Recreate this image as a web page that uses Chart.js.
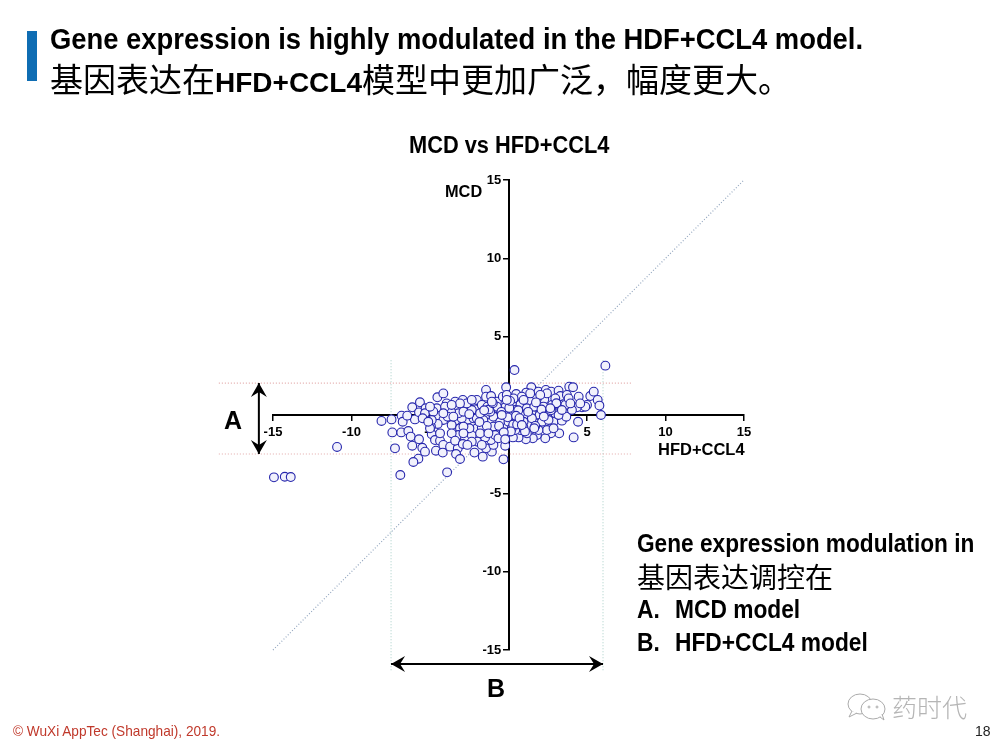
<!DOCTYPE html>
<html>
<head>
<meta charset="utf-8">
<script src="https://cdn.jsdelivr.net/npm/chart.js@4"></script>
<style>
  html, body { margin: 0; padding: 0; background: #fff; }
  #slide { position: relative; width: 1000px; height: 750px; overflow: hidden; font-family: "Liberation Sans", Arial, sans-serif; color: #000; }
  #slide canvas { position: absolute; left: 0; top: 0; }
  .txt { position: absolute; white-space: nowrap; transform-origin: left center; line-height: 1; }
  .b { font-weight: bold; }
  .cjk { font-family: "Noto Sans CJK SC", sans-serif; font-weight: 400; }
  .mark { display: inline-block; width: 41.8px; }
  #bar { position: absolute; left: 27px; top: 31px; width: 10px; height: 50px; background: #0f6db3; }
</style>
</head>
<body>
<div id="slide">
  <canvas id="chart" width="1000" height="750"></canvas>
  <div id="bar"></div>
  <div class="txt b" style="left:50px;top:25px;font-size:29px;transform:scaleX(.944)">Gene expression is highly modulated in the HDF+CCL4 model.</div>
  <div class="txt" style="left:50px;top:62px;font-size:33px"><span class="cjk">基因表达在</span><span class="b" style="font-size:28px">HFD+CCL4</span><span class="cjk">模型中更加广泛，幅度更大。</span></div>
  <div class="txt b" style="left:409px;top:133px;font-size:24px;transform:scaleX(.908)">MCD vs HFD+CCL4</div>
  <div class="txt b" style="left:445px;top:183px;font-size:17px;transform:scaleX(.96)">MCD</div>
  <div class="txt b" style="left:658px;top:441px;font-size:17px;transform:scaleX(.97)">HFD+CCL4</div>
  <div class="txt b" style="left:224px;top:408px;font-size:25px">A</div>
  <div class="txt b" style="left:487px;top:676px;font-size:25px">B</div>
  <div class="txt b" style="left:637px;top:531px;font-size:25px;transform:scaleX(.906)">Gene expression modulation in</div>
  <div class="txt cjk" style="left:637px;top:562px;font-size:28px">基因表达调控在</div>
  <div class="txt b" style="left:637px;top:597px;font-size:25px;transform:scaleX(.91)"><span class="mark">A.</span>MCD model</div>
  <div class="txt b" style="left:637px;top:630px;font-size:25px;transform:scaleX(.91)"><span class="mark">B.</span>HFD+CCL4 model</div>
  <div class="txt" style="left:13px;top:723px;font-size:15px;color:#c0392b;transform:scaleX(.91)">© WuXi AppTec (Shanghai), 2019.</div>
  <div class="txt" style="left:975px;top:724px;font-size:14px;color:#222">18</div>
  <svg style="position:absolute;left:845px;top:692px" width="44" height="30" fill="#fff" stroke="#aaa" stroke-width="1">
    <ellipse cx="15" cy="12" rx="12" ry="10"/>
    <path d="M7 19 L4 25 L12 21"/>
    <ellipse cx="28" cy="17" rx="12" ry="10"/>
    <path d="M35 25 L39 28 L37 22"/>
    <circle cx="24" cy="15" r="1"/><circle cx="32" cy="15" r="1"/>
  </svg>
  <div class="txt cjk" style="left:892px;top:694px;font-size:25px;color:#b5b5b5;font-weight:300">药时代</div>
</div>

<script>
// values: x = HFD+CCL4, y = MCD
var hfdCcl4 = [
  -14.94, -14.25, -13.87, -10.92, 0.38, 6.17, -6.89, -3.91, -0.32, -0.15, -1.43, 1.45, 3.87, 4.11,
  -8.09, -7.45, -7.40, -6.81, -6.74, -6.83, -6.38, -7.23, -6.13, -6.23, -5.70, -5.49, -5.32, -5.74, -6.06,
  -5.96, -6.45, -6.13, -5.64, -5.70, -5.28, -5.32, -4.53, -4.15, -3.94, -4.57, -4.53, -4.15, -4.51, -4.94,
  -4.89, -4.68, -4.36, -4.15, -4.62, -4.19, -3.72, -3.23, -3.34, -3.09, -2.17, -1.64, -1.06, -1.98, -1.43,
  -0.96, -0.21, -3.40, -2.91, -3.94, -3.19, -3.40, -3.62, -3.09, -3.19, -2.77, -2.34, -2.62, -2.23, -2.55,
  -2.13, -2.02, -1.43, -1.11, -1.70, -1.34, -0.74, -0.36, -0.11, 0.49, 1.13, 1.91, 2.38, 2.72, 3.19, 3.30,
  3.72, 4.47, 5.21, 5.43, 5.68, 5.79, 5.89, 5.00, 4.68, 4.36, 4.43, 4.15, 3.23, 2.70, 2.34, 1.81, 1.55,
  1.11, 0.64, 0.28, -0.21, -1.11, -1.49, -2.02, -1.70, -0.96, -0.49, -0.11, 0.74, 1.28, 1.81, 2.45, 2.87,
  3.40, 3.68, 4.04, 3.30, 2.77, 2.28, 1.81, 1.38, 0.74, 0.21, -0.21, -0.70, 0.11, 0.57, 1.00, 1.49, 1.98,
  2.45, 2.98, -0.96, -1.49, -2.02, -2.98, -3.19, -0.53, 0.00, -0.85, -1.60, -1.38, -2.49, -2.87, -2.34,
  -0.32, 0.43, 1.17, 1.64, 2.23, 3.62, 3.83, 2.98, 2.45, 2.02, 1.38, 0.85, 0.32, -0.74, -1.17, -1.81,
  -2.66, -3.09, -3.66, -4.04, -3.87, -3.51, 0.96, 1.49, 0.43, 2.13, 2.55, 3.19, -1.81, -0.64, -2.34, 1.17,
  0.21, 0.74, 1.91, 2.87, -2.87, 4.89, -5.00, -4.36, -4.15,
  -0.45, 0.05, 0.62, -0.05, 0.30, 0.95, 1.70, 2.10, 2.70, 3.05, -0.60, -1.25, 0.15, 0.55, 1.25, 1.75,
  -1.85, -2.50, -0.30, 0.48, 1.05, 2.25, -1.00, -1.55, 0.10, 0.70,
  -4.79, -4.89, -3.62, -3.40, -2.91, -2.62, -1.70, -1.28, -0.21, 0.85, 1.64, 2.66, 3.40, 3.94, 4.57,
  0.96, -0.11, -1.06, -2.34, -3.62, -5.00, -5.47, -5.11, -2.87, -0.43
];
var mcd = [
  -3.98, -3.94, -3.96, -2.04, 2.87, 3.15, -3.83, -3.66, -2.83, 1.77, 1.60, 1.77, 1.81, 1.77,
  -0.38, -0.28, -1.11, -0.04, -0.43, -1.11, -1.02, -2.13, -1.96, -1.38, -1.55, -2.09, -2.34, -2.79, -3.00,
  -0.28, -0.04, 0.49, 0.81, 0.17, 0.43, 0.11, 1.13, 1.38, 0.74, 0.43, -0.06, -0.32, -0.57, -0.74,
  -1.23, -1.60, -1.64, -1.91, -2.28, -2.40, -2.02, -2.13, -2.49, -2.81, -2.40, -2.66, -2.34, -1.70, -2.13,
  -1.91, -1.96, 0.85, 0.96, 0.26, 0.49, -0.36, -0.64, -0.85, -1.28, -1.49, -1.28, -0.32, -0.21, 0.36,
  0.36, 0.96, 1.17, 1.21, 0.64, 0.53, 0.85, 1.17, 1.28, 1.34, 1.43, 1.49, 1.60, 1.49, 1.55, 1.21,
  1.28, 1.17, 1.21, 1.49, 0.96, 0.60, 0.00, 0.64, 0.49, 0.49, -0.43, -1.43, -1.17, -1.17, -1.49, -1.28, -1.49,
  -1.55, -1.43, -1.43, -1.28, -1.60, -1.43, -0.85, -0.79, -0.74, -0.96, -0.79, -0.96, -0.64, -0.53, -0.96, -0.43,
  -0.36, -0.11, 0.32, 0.64, 0.64, 1.00, 1.06, 0.85, 0.64, 0.74, 0.49, 0.43, 0.21, -0.28, -0.06, 0.11, 0.00,
  0.00, 0.11, -0.11, -0.04, -0.21, -0.21, 0.11, -0.43, -0.43, -1.28, -0.32, -0.70, -0.85, -0.74, 0.32,
  0.11, 0.32, 0.43, 0.53, 0.53, 0.64, 1.06, 1.06, 1.38, 1.28, 1.38, 1.17, 1.06, 0.53, 0.21, 0.11,
  0.74, 0.74, 0.21, 0.53, -0.11, -0.11, -0.43, -0.21, -0.96, -0.43, -0.32, 0.00, -1.17, -1.49, -1.70, -1.17,
  -0.85, 0.11, -0.96, -0.85, 0.21, 0.53, -0.85, -1.17, 0.11,
  0.20, 0.45, 0.30, -0.15, -0.62, -0.80, -0.70, 0.35, 0.30, 0.75, -0.70, 0.35, -1.05, -0.60, 0.20, 0.80,
  -0.45, 0.05, -1.10, -0.05, -1.05, -0.10, 0.75, 0.30, 0.90, -0.20,
  0.21, -0.32, -1.17, -1.64, -1.85, -1.91, -1.91, -1.17, -1.55, -0.64, -0.85, 0.43, 0.32, 0.74, 0.74,
  0.96, 0.96, 0.85, 0.96, 0.64, 0.53, -0.21, -0.43, -1.17, 0.00
];
var tickValues = [-15, -10, -5, 5, 10, 15];
var identityLine = [{ x: -15, y: -15 }, { x: 15, y: 15 }];
var cutoffUpper = [{ x: -18.45, y: 2.04 }, { x: 7.9, y: 2.04 }];
var cutoffLower = [{ x: -18.45, y: -2.49 }, { x: 7.9, y: -2.49 }];
var cutoffLeft = [{ x: -7.48, y: 3.5 }, { x: -7.48, y: -16.3 }];
var cutoffRight = [{ x: 6.02, y: 3.5 }, { x: 6.02, y: -16.3 }];
var arrowA = [{ x: -15.9, y: 2.04 }, { x: -15.9, y: -2.49 }];
var arrowB = [{ x: -7.48, y: -15.9 }, { x: 6.02, y: -15.9 }];

var points = hfdCcl4.map(function(v, i) { return { x: v, y: mcd[i] }; });

function guide(data, color) {
  return {
    type: "line", data: data, borderColor: color, borderWidth: 1.2, borderDash: [1, 2],
    pointRadius: 0, clip: false, order: 3
  };
}
function arrow(data) {
  return {
    type: "line", data: data, borderColor: "#000", borderWidth: 2,
    pointRadius: 0, clip: false, order: 2
  };
}

// points outside the chart area are skipped by Chart.js, so the heads go here
var arrowHeads = {
  id: "arrowHeads",
  afterDatasetsDraw: function(chart) {
    var ctx = chart.ctx;
    [arrowA, arrowB].forEach(function(ends) {
      var p0 = { x: chart.scales.x.getPixelForValue(ends[0].x), y: chart.scales.y.getPixelForValue(ends[0].y) };
      var p1 = { x: chart.scales.x.getPixelForValue(ends[1].x), y: chart.scales.y.getPixelForValue(ends[1].y) };
      var a = Math.atan2(p1.y - p0.y, p1.x - p0.x);
      [[p0, a], [p1, a + Math.PI]].forEach(function(h) {
        ctx.save();
        ctx.translate(h[0].x, h[0].y);
        ctx.rotate(h[1]);
        ctx.beginPath();
        ctx.moveTo(0, 0);
        ctx.lineTo(14, -8);
        ctx.lineTo(9, 0);
        ctx.lineTo(14, 8);
        ctx.closePath();
        ctx.fillStyle = "#000";
        ctx.fill();
        ctx.restore();
      });
    });
  }
};

var axisFont = { family: "Liberation Sans", size: 13, weight: "bold" };

function axisStyle() {
  return {
    type: "linear", min: -15, max: 15,
    afterBuildTicks: function(scale) {
      scale.ticks = tickValues.map(function(v) { return { value: v }; });
    },
    border: { display: true, color: "#000", width: 2 },
    grid: { drawOnChartArea: false, color: "#000", lineWidth: 1.5, tickLength: 5 },
    ticks: { color: "#000", padding: 5, maxRotation: 0, autoSkip: false, font: axisFont }
  };
}

var xAxis = axisStyle();
xAxis.position = { y: 0 };
var yAxis = axisStyle();
yAxis.position = { x: 0 };
// labels of an axis placed by value sit flush on the line, the spaces push them off it
yAxis.ticks.callback = function(v) { return v + "  "; };

new Chart(document.getElementById("chart"), {
  type: "scatter",
  plugins: [arrowHeads],
  data: {
    datasets: [
      {
        data: points,
        backgroundColor: "#f1f1fc",
        borderColor: "#2626ac",
        borderWidth: 1.1,
        pointRadius: 4.4,
        clip: false,
        order: 1
      },
      guide(identityLine, "#93a6bf"),
      guide(cutoffUpper, "#e3a9a9"),
      guide(cutoffLower, "#e3a9a9"),
      guide(cutoffLeft, "#b5d6d0"),
      guide(cutoffRight, "#b5d6d0"),
      arrow(arrowA),
      arrow(arrowB)
    ]
  },
  options: {
    responsive: false,
    animation: false,
    layout: { padding: { left: 273, right: 256, top: 180, bottom: 100 } },
    plugins: { legend: { display: false }, title: { display: false }, tooltip: { enabled: false } },
    scales: { x: xAxis, y: yAxis }
  }
});
</script>
</body>
</html>
